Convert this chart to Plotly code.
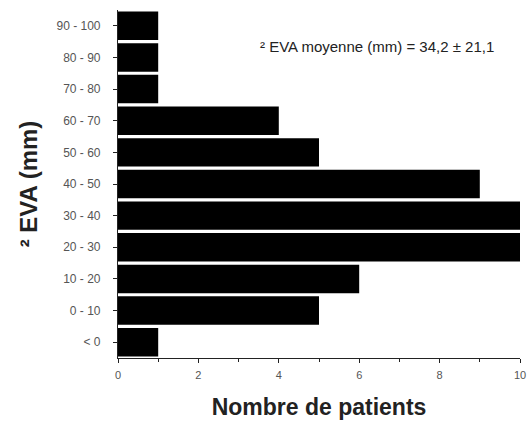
import plotly.graph_objects as go

categories = ["< 0", "0 - 10", "10 - 20", "20 - 30", "30 - 40", "40 - 50",
              "50 - 60", "60 - 70", "70 - 80", "80 - 90", "90 - 100"]
patients = [1, 5, 6, 10, 10, 9, 5, 4, 1, 1, 1]
x_ticks = [0, 2, 4, 6, 8, 10]

fig = go.Figure()
fig.add_trace(go.Bar(
    y=categories, x=patients, orientation="h",
    marker=dict(color="black", line=dict(color="black", width=0)),
    showlegend=False,
))

font = "Liberation Sans, Arial, sans-serif"
fig.update_layout(
    width=528, height=422,
    margin=dict(l=118, r=8, t=10, b=64, autoexpand=False),
    paper_bgcolor="white", plot_bgcolor="white",
    bargap=0.1,
    font=dict(family=font, color="#333"),
    xaxis=dict(
        range=[0, 10], tickvals=x_ticks, ticktext=[str(v) for v in x_ticks],
        automargin=False,
        showgrid=False, zeroline=False,
        showline=True, linecolor="#222", linewidth=1.2,
        ticks="outside", ticklen=4, tickcolor="#222",
        minor=dict(dtick=1, ticks="outside", ticklen=3, tickcolor="#222"),
        tickfont=dict(size=11, color="#555"),
        ticklabelstandoff=3,
        title=dict(text="<b>Nombre de patients</b>", font=dict(size=23, color="#222"), standoff=18),
    ),
    yaxis=dict(
        categoryorder="array", categoryarray=categories,
        range=[-0.5, 10.5],
        automargin=False,
        showgrid=False, zeroline=False,
        showline=True, linecolor="#222", linewidth=1.2,
        ticks="outside", ticklen=4, tickcolor="#222",
        tickfont=dict(size=12, color="#555"),
        ticklabelstandoff=10,
        title=dict(text="<b>² EVA (mm)</b>", font=dict(size=24, color="#222"), standoff=12),
    ),
    annotations=[dict(
        x=0.644, y=0.894, xref="paper", yref="paper",
        text="² EVA moyenne (mm) = 34,2 ± 21,1",
        showarrow=False, font=dict(size=15, color="#222"),
        xanchor="center", yanchor="middle",
    )],
)

fig.write_html("out.html", config={"displayModeBar": False},
               post_script="document.body.style.margin='0';")
